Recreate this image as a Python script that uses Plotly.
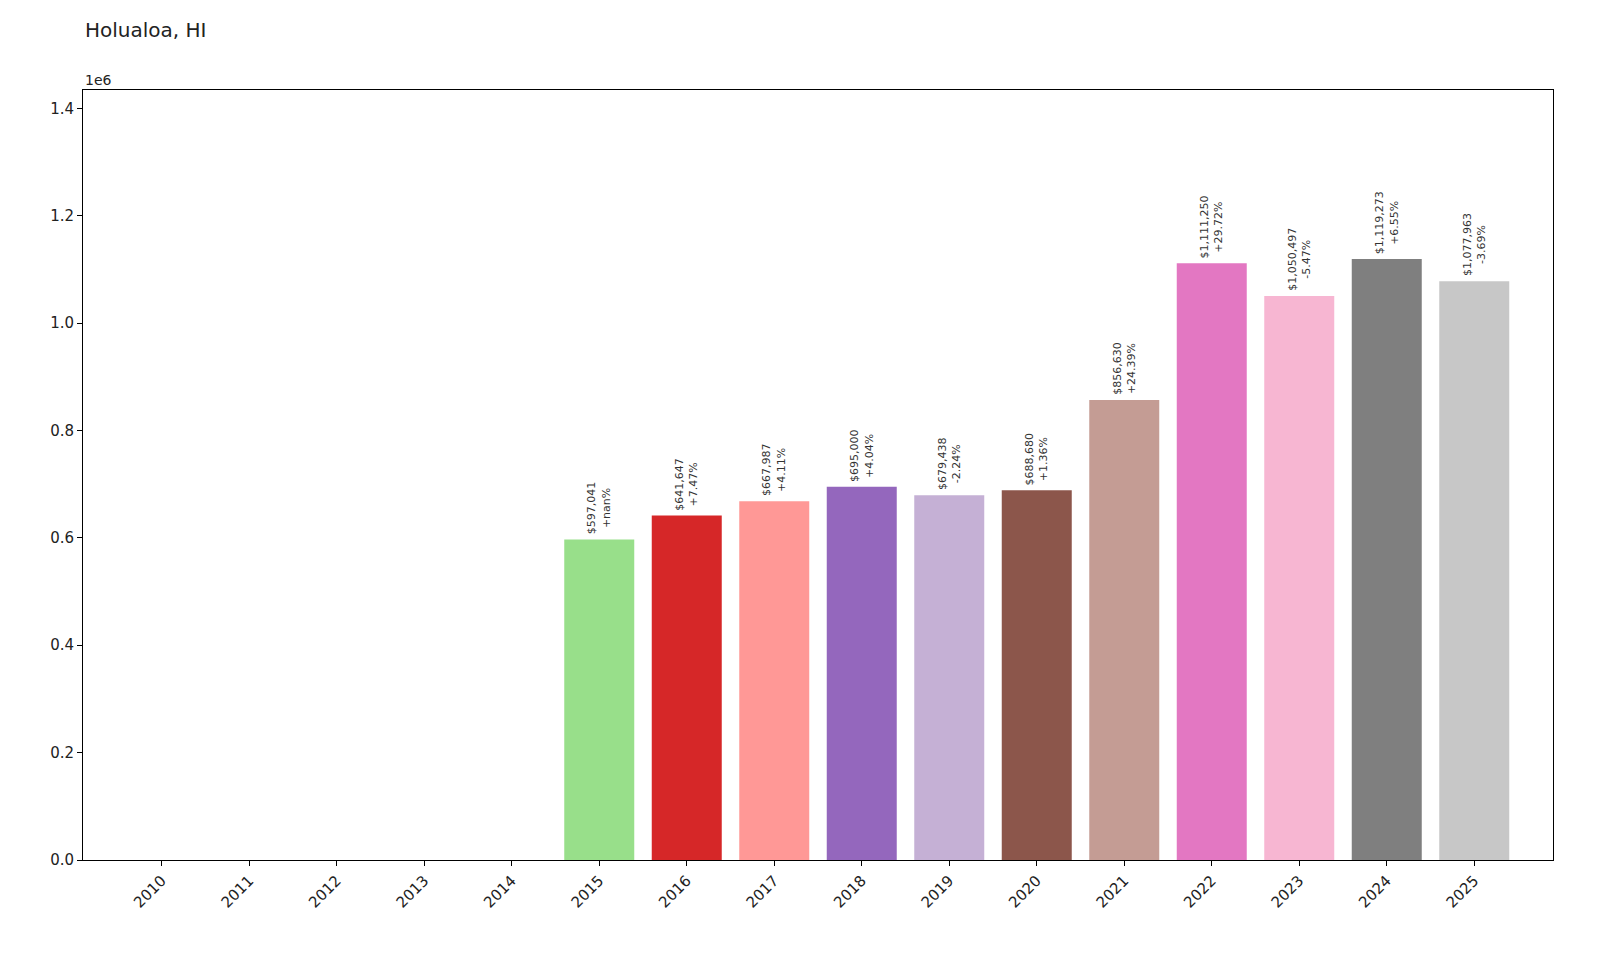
import plotly.graph_objects as go

years = list(range(2010, 2026))
values = [0, 0, 0, 0, 0, 597041, 641647, 667987, 695000, 679438, 688680, 856630, 1111250, 1050497, 1119273, 1077963]
changes = [None]*5 + ["+nan%", "+7.47%", "+4.11%", "+4.04%", "-2.24%", "+1.36%", "+24.39%", "+29.72%", "-5.47%", "+6.55%", "-3.69%"]
colors = ["#1f77b4", "#aec7e8", "#ff7f0e", "#ffbb78", "#2ca02c", "#98df8a", "#d62728", "#ff9896",
          "#9467bd", "#c5b0d5", "#8c564b", "#c49c94", "#e377c2", "#f7b6d2", "#7f7f7f", "#c7c7c7"]
ytickvals = [0, 200000, 400000, 600000, 800000, 1000000, 1200000, 1400000]
yticktext = ["0.0", "0.2", "0.4", "0.6", "0.8", "1.0", "1.2", "1.4"]

fig = go.Figure(go.Bar(x=years, y=values, marker_color=colors, width=0.8, marker_line_width=0))

for yr, v, c in zip(years, values, changes):
    if c is None:
        continue
    fig.add_annotation(x=yr, y=v, xref="x", yref="y", text=f"${v:,}<br>{c}", textangle=-90,
                       showarrow=False, xanchor="center", yanchor="bottom", yshift=3,
                       font=dict(size=11, color="#333"))

fig.add_annotation(text="Holualoa, HI", xref="paper", yref="paper", x=0, y=1.06, xanchor="left",
                   yanchor="bottom", showarrow=False, font=dict(size=20, color="#222"))
fig.add_annotation(text="1e6", xref="paper", yref="paper", x=0, y=1.0, xanchor="left",
                   yanchor="bottom", showarrow=False, font=dict(size=14, color="#222"))

fig.update_layout(
    width=1600, height=960, plot_bgcolor="white", paper_bgcolor="white",
    margin=dict(l=75, r=55, t=82, b=108),
    font=dict(family="DejaVu Sans", color="#222", size=14),
    showlegend=False,
    xaxis=dict(type="linear", tickvals=years, ticktext=[str(y) for y in years], tickangle=-45,
               showline=True, linecolor="black", mirror=True, ticks="outside",
               tickcolor="black", ticklen=5, range=[2009.1, 2025.9], tickfont=dict(size=15),
               showgrid=False, zeroline=False),
    yaxis=dict(range=[0, 1434000], tickvals=ytickvals, ticktext=yticktext, showline=True,
               linecolor="black", mirror=True, ticks="outside", tickcolor="black", ticklen=5,
               showgrid=False, zeroline=False, tickfont=dict(size=15)),
)
fig.write_html("out.html")
